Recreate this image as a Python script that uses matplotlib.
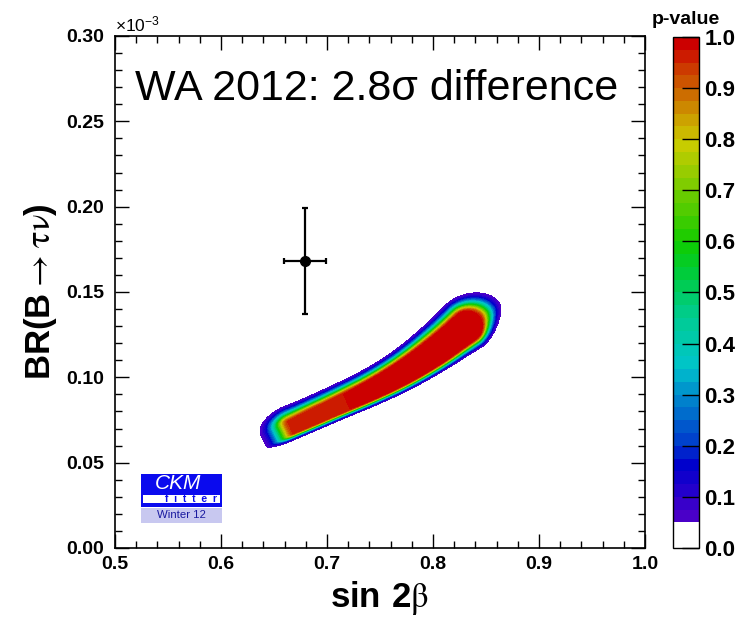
"""
CKMfitter: BR(B -> tau nu) frente a sin 2beta, WA 2012 (diferencia de 2.8 sigma)
"""
import numpy as np
import matplotlib
matplotlib.use("Agg")
import matplotlib.pyplot as plt
from matplotlib.colors import LinearSegmentedColormap
from matplotlib.patches import Rectangle
from matplotlib.ticker import MultipleLocator

plt.rcParams['font.family'] = ['Liberation Sans', 'DejaVu Sans']
plt.rcParams['mathtext.fontset'] = 'custom'
plt.rcParams['mathtext.rm'] = 'STIXGeneral'
plt.rcParams['mathtext.bf'] = 'Liberation Sans:bold'
plt.rcParams['mathtext.sf'] = 'Liberation Sans'

# ---------------- datos ----------------
# medida WA 2012 (BR en unidades de 1e-3)
wa_sin2b = [0.679]
wa_sin2b_err = [0.020]
wa_br = [0.168]
wa_br_err = [0.031]

# cresta de la meseta p-value ~ 1 del ajuste
cresta_sin2b = [0.667, 0.679, 0.710, 0.743, 0.774, 0.805, 0.832]
cresta_br = [0.0709, 0.0744, 0.0832, 0.0926, 0.1031, 0.1160, 0.1295]
# semi-anchura vertical de la meseta (1e-3)
meseta_ancho = [0.0040, 0.0044, 0.0048, 0.0056, 0.0072, 0.0090, 0.0105]
meseta_p = [0.96, 0.96, 0.965, 1.0, 1.0, 1.0, 1.0]
# caida por encima / por debajo de la meseta (px)
caida_arriba = [6.5, 5.8, 5.4, 5.2, 5.2, 6.0, 6.8]
caida_abajo = [2.6, 2.6, 2.6, 2.8, 3.0, 3.4, 4.5]

x_ticks = [0.5, 0.6, 0.7, 0.8, 0.9, 1.0]
y_ticks = [0.00, 0.05, 0.10, 0.15, 0.20, 0.25, 0.30]
cb_ticks = [0.0, 0.1, 0.2, 0.3, 0.4, 0.5, 0.6, 0.7, 0.8, 0.9, 1.0]
niveles = [0.0, 0.05] + list(np.round(np.arange(0.075, 1.0001, 0.025), 3))

# paleta tipo ROOT (valor, color)
paleta = [(0.05, '#4a00c8'), (0.10, '#2200cc'), (0.15, '#0000cc'),
          (0.20, '#0040cc'), (0.30, '#0090cc'), (0.35, '#00c4cc'),
          (0.45, '#00cc90'), (0.55, '#00cc30'), (0.60, '#10cc00'),
          (0.70, '#70cc00'), (0.80, '#cccc00'), (0.85, '#cca000'),
          (0.90, '#cc6c00'), (0.95, '#cc3c00'), (1.00, '#cc0000')]

# extremos de la region (px)
sig_izq = 13.0
sig_der = 10.8


def chaikin(pts, n=3):
    # suaviza la polilinea conservando los extremos
    for _ in range(n):
        q = 0.75 * pts[:-1] + 0.25 * pts[1:]
        r = 0.25 * pts[:-1] + 0.75 * pts[1:]
        mid = np.empty((2 * len(q), pts.shape[1]))
        mid[0::2] = q
        mid[1::2] = r
        pts = np.vstack([pts[:1], mid, pts[-1:]])
    return pts


# ---------------- campo de p-value ----------------
sx = 530 / 0.5     # px por unidad de sin 2beta
sy = 512 / 0.30    # px por unidad de BR (1e-3)
gx, gy = np.meshgrid(np.linspace(0.5, 1.0, 800), np.linspace(0.0, 0.30, 800))
U = (gx - 0.5) * sx
V = gy * sy

base = np.column_stack([(np.array(cresta_sin2b) - 0.5) * sx,
                        np.array(cresta_br) * sy,
                        np.array(meseta_ancho) * sy,
                        meseta_p, caida_arriba, caida_abajo])
pu, pv, hv, pp, su, sd = chaikin(base, 3).T
pendiente = np.gradient(pv, pu)
hw = hv / np.sqrt(1 + pendiente**2)

seg = np.hypot(np.diff(pu), np.diff(pv))
cum = np.concatenate([[0.0], np.cumsum(seg)])
L = cum[-1]
nseg = len(seg)

mejor = np.full(U.shape, np.inf)
S = np.zeros(U.shape)
N = np.zeros(U.shape)
for i in range(nseg):
    dx, dy = pu[i + 1] - pu[i], pv[i + 1] - pv[i]
    l = seg[i]
    tx, ty = dx / l, dy / l
    rx, ry = U - pu[i], V - pv[i]
    t = (rx * tx + ry * ty) / l
    lo = -np.inf if i == 0 else 0.0
    hi = np.inf if i == nseg - 1 else 1.0
    tc = np.clip(t, lo, hi)
    dist = np.hypot(U - (pu[i] + tc * dx), V - (pv[i] + tc * dy))
    signo = np.sign(-rx * ty + ry * tx)
    m = dist < mejor
    mejor[m] = dist[m]
    S[m] = cum[i] + tc[m] * l
    N[m] = signo[m] * dist[m]

W = np.interp(S, cum, hw)
sn = np.where(N > 0, np.interp(S, cum, su), np.interp(S, cum, sd))

# cuerpo y extremo izquierdo
d2 = (np.maximum(0, np.abs(N) - W) / sn)**2 + (np.maximum(0, -S) / sig_izq)**2

# extremo derecho redondeado
a = np.maximum(0, S - L)
r = np.hypot(a, N)
cos2 = np.where(r > 0, a**2 / np.maximum(r, 1e-9)**2, 0.0)
sig_eff2 = 1.0 / (cos2 / sig_der**2 + (1 - cos2) / sn**2)
d2_cap = np.maximum(0, r - hw[-1])**2 / sig_eff2
d2 = np.where(S > L, d2_cap, d2)

P = np.interp(S, cum, pp) * np.exp(-0.5 * d2)

# colores de las bandas
cmap = LinearSegmentedColormap.from_list(
    'root', [((v - 0.05) / 0.95, c) for v, c in paleta])
nb = len(niveles) - 2
colores = ['white'] + [cmap(k / (nb - 1)) for k in range(nb)]

# ---------------- figura ----------------
fig = plt.figure(figsize=(7.4, 6.17), dpi=100)
ax = fig.add_axes([115 / 740, 69 / 617, 530 / 740, 512 / 617])
cax = fig.add_axes([673 / 740, 69 / 617, 26 / 740, 511 / 617])

cs = ax.contourf(gx, gy, P, levels=niveles, colors=colores)
ax.errorbar(wa_sin2b, wa_br, xerr=wa_sin2b_err, yerr=wa_br_err, fmt='o',
            color='black', ms=7, elinewidth=1.6, capsize=2.5, capthick=1.6,
            zorder=5)

ax.set_xlim(0.5, 1.0)
ax.set_ylim(0.0, 0.30)
ax.set_xticks(x_ticks)
ax.set_xticklabels(['%.1f' % v for v in x_ticks], fontsize=14, fontweight='bold')
ax.set_yticks(y_ticks)
ax.set_yticklabels(['%.2f' % v for v in y_ticks], fontsize=14, fontweight='bold')
ax.xaxis.set_minor_locator(MultipleLocator(0.02))
ax.yaxis.set_minor_locator(MultipleLocator(0.01))
ax.tick_params(which='both', direction='in', top=True, right=True, width=1)
ax.tick_params(which='major', length=10)
ax.tick_params(which='minor', length=5)
ax.tick_params(axis='x', pad=6)
ax.tick_params(axis='y', pad=8)
for s in ax.spines.values():
    s.set_linewidth(1.2)

ax.set_xlabel(r'$\mathbf{sin\ 2}\mathrm{\beta}$', fontsize=25, labelpad=4)
ax.set_ylabel(r'$\mathbf{BR(B}\rightarrow\mathrm{\tau\nu}\mathbf{)}$',
              fontsize=25, labelpad=5)

ax.text(0.0, 1.004, r'$\mathsf{\times10^{-3}}$', transform=ax.transAxes,
        fontsize=12.5, ha='left', va='bottom')
ax.text(0.038, 0.875, 'WA 2012: 2.8σ difference', transform=ax.transAxes,
        fontsize=31, ha='left', va='baseline')

# logo CKMfitter
azul = '#0a0aee'
ax.add_patch(Rectangle((0.0485, 0.0807), 0.1528, 0.0638, transform=ax.transAxes,
                       facecolor=azul, edgecolor='none', zorder=6))
ax.add_patch(Rectangle((0.0523, 0.0879), 0.1458, 0.0156, transform=ax.transAxes,
                       facecolor='white', edgecolor='none', zorder=7))
ax.add_patch(Rectangle((0.0485, 0.0482), 0.1528, 0.0305, transform=ax.transAxes,
                       facecolor='#c8c8f0', edgecolor='none', zorder=6))
ax.text(0.118, 0.1145, 'CKM', transform=ax.transAxes, fontsize=15,
        style='italic', color='white', ha='center', va='baseline', zorder=8)
ax.text(0.1925, 0.0895, 'f  i  t  t  e  r', transform=ax.transAxes,
        fontsize=7.5, fontweight='bold', color=azul, ha='right',
        va='baseline', zorder=8)
ax.text(0.125, 0.0635, 'Winter 12', transform=ax.transAxes, fontsize=8.2,
        color='#1a1aa0', ha='center', va='center', zorder=8)

# barra de color
cb = fig.colorbar(cs, cax=cax, ticks=cb_ticks, spacing='proportional')
cb.ax.set_yticklabels(['%.1f' % t for t in cb_ticks], fontsize=16,
                      fontweight='bold')
cb.ax.tick_params(direction='in', length=12.5, width=1, pad=4)
cb.ax.minorticks_off()
cb.outline.set_linewidth(1.0)
fig.text(686 / 740, 1 - 24 / 617, 'p-value', ha='center', va='baseline',
         fontsize=14, fontweight='bold')

plt.savefig('out.png', dpi=100)
